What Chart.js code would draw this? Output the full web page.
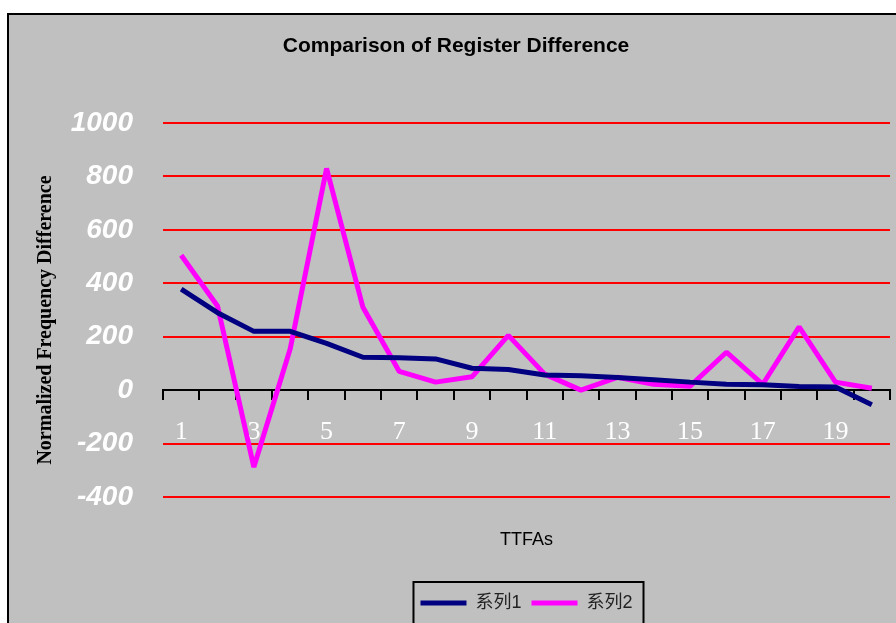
<!DOCTYPE html>
<html>
<head>
<meta charset="utf-8">
<script src="https://cdn.jsdelivr.net/npm/chart.js@4/dist/chart.umd.min.js"></script>
<style>
  html, body { margin: 0; padding: 0; overflow: hidden; background: #ffffff; width: 896px; height: 623px; }
  #frame { position: absolute; left: 7px; top: 13px; width: 1000px; height: 700px; background: #c0c0c0; border-top: 2px solid #000; border-left: 2px solid #000; }
  #wrap { position: absolute; left: 0; top: 0; width: 896px; height: 640px; }
</style>
</head>
<body>
<div id="frame"></div>
<div id="wrap"><canvas id="c" width="896" height="640"></canvas></div>
<script>
const categories = ['1','2','3','4','5','6','7','8','9','10','11','12','13','14','15','16','17','18','19','20'];
const series1Name = '系列1';
const series2Name = '系列2';
const series1 = [378, 290, 220, 220, 175, 123, 121, 117, 82, 77, 57, 54, 47, 39, 30, 22, 20, 14, 12, -55];
const series2 = [505, 315, -288, 155, 830, 310, 70, 30, 50, 205, 60, 0, 48, 22, 15, 142, 22, 237, 30, 7];
const yMin = -400;
const yMax = 1000;
const yStep = 200;
const chartTitle = 'Comparison of Register Difference';
const xTitle = 'TTFAs';
const yTitle = 'Normalized Frequency Difference';

const legendFrame = {
  id: 'legendFrame',
  afterDraw(chart) {
    const lg = chart.legend;
    if (!lg || !lg.legendHitBoxes || !lg.legendHitBoxes.length) return;
    const hb = lg.legendHitBoxes;
    const first = hb[0], last = hb[hb.length - 1];
    const left = first.left - 7;
    const right = last.left + last.width + 11;
    const cy = first.top + first.height / 2;
    const top = cy - 21;
    const ctx = chart.ctx;
    ctx.save();
    ctx.strokeStyle = '#000';
    ctx.lineWidth = 2;
    ctx.strokeRect(left, top, right - left, 80);
    ctx.restore();
  }
};

new Chart(document.getElementById('c'), {
  type: 'line',
  data: {
    labels: categories,
    datasets: [
      { label: series1Name, data: series1, borderColor: '#000080', backgroundColor: '#000080', borderWidth: 5, pointRadius: 0, tension: 0, borderJoinStyle: 'bevel' },
      { label: series2Name, data: series2, borderColor: '#ff00ff', backgroundColor: '#ff00ff', borderWidth: 5, pointRadius: 0, tension: 0, borderJoinStyle: 'bevel' }
    ]
  },
  options: {
    responsive: false,
    animation: false,
    layout: { padding: { left: 22, right: 6, top: 0, bottom: 18 } },
    plugins: {
      title: {
        display: true, text: chartTitle, color: '#000',
        font: { family: "'Liberation Sans', Arial, sans-serif", size: 21, weight: 'bold' },
        padding: { top: 33.4, bottom: 64.4 }
      },
      legend: {
        position: 'bottom', fullSize: false,
        labels: {
          boxWidth: 46, boxHeight: 5, padding: 10, color: '#222',
          font: { family: "'Liberation Sans', 'Noto Sans CJK SC', sans-serif", size: 18 },
          generateLabels: (chart) => Chart.defaults.plugins.legend.labels.generateLabels(chart).map(l => Object.assign({}, l, { fillStyle: l.strokeStyle, lineWidth: 0 }))
        }
      },
      tooltip: { enabled: false }
    },
    scales: {
      x: {
        type: 'category', offset: true, position: { y: 0 },
        grid: { offset: true, drawOnChartArea: false, drawTicks: true, tickLength: 9, color: '#000', lineWidth: 2 },
        border: { display: true, color: '#000', width: 2 },
        ticks: {
          autoSkip: false, maxRotation: 0, minRotation: 0, padding: 17, color: '#fff',
          font: { family: "'Liberation Serif', 'Times New Roman', serif", size: 26 },
          callback: function (value, index) { return index % 2 === 0 ? this.getLabelForValue(value) : ''; }
        }
      },
      x2: {
        type: 'category', labels: categories, position: 'bottom', offset: true,
        grid: { display: false, drawTicks: false }, border: { display: false },
        ticks: { display: false },
        title: { display: true, text: xTitle, color: '#000', font: { family: "'Liberation Sans', Arial, sans-serif", size: 18 }, padding: { top: 32.2, bottom: 33.2 } }
      },
      y: {
        min: yMin, max: yMax,
        ticks: {
          stepSize: yStep, color: '#fff', padding: 30,
          font: { family: "'Liberation Sans', Arial, sans-serif", size: 28, weight: 'bold', style: 'italic' },
          callback: (value) => String(value)
        },
        grid: { color: (ctx) => (ctx.tick && ctx.tick.value === 0) ? 'rgba(0,0,0,0)' : '#ff0000', lineWidth: 2, drawTicks: false },
        border: { display: false },
        title: { display: true, text: yTitle + '    ', color: '#000', font: { family: "'Liberation Serif', 'Times New Roman', serif", size: 20, weight: 'bold' }, padding: { top: 11.5, bottom: 0 } },
        afterFit: (scale) => { scale.width = 141; }
      }
    }
  },
  plugins: [legendFrame]
});
</script>
</body>
</html>
